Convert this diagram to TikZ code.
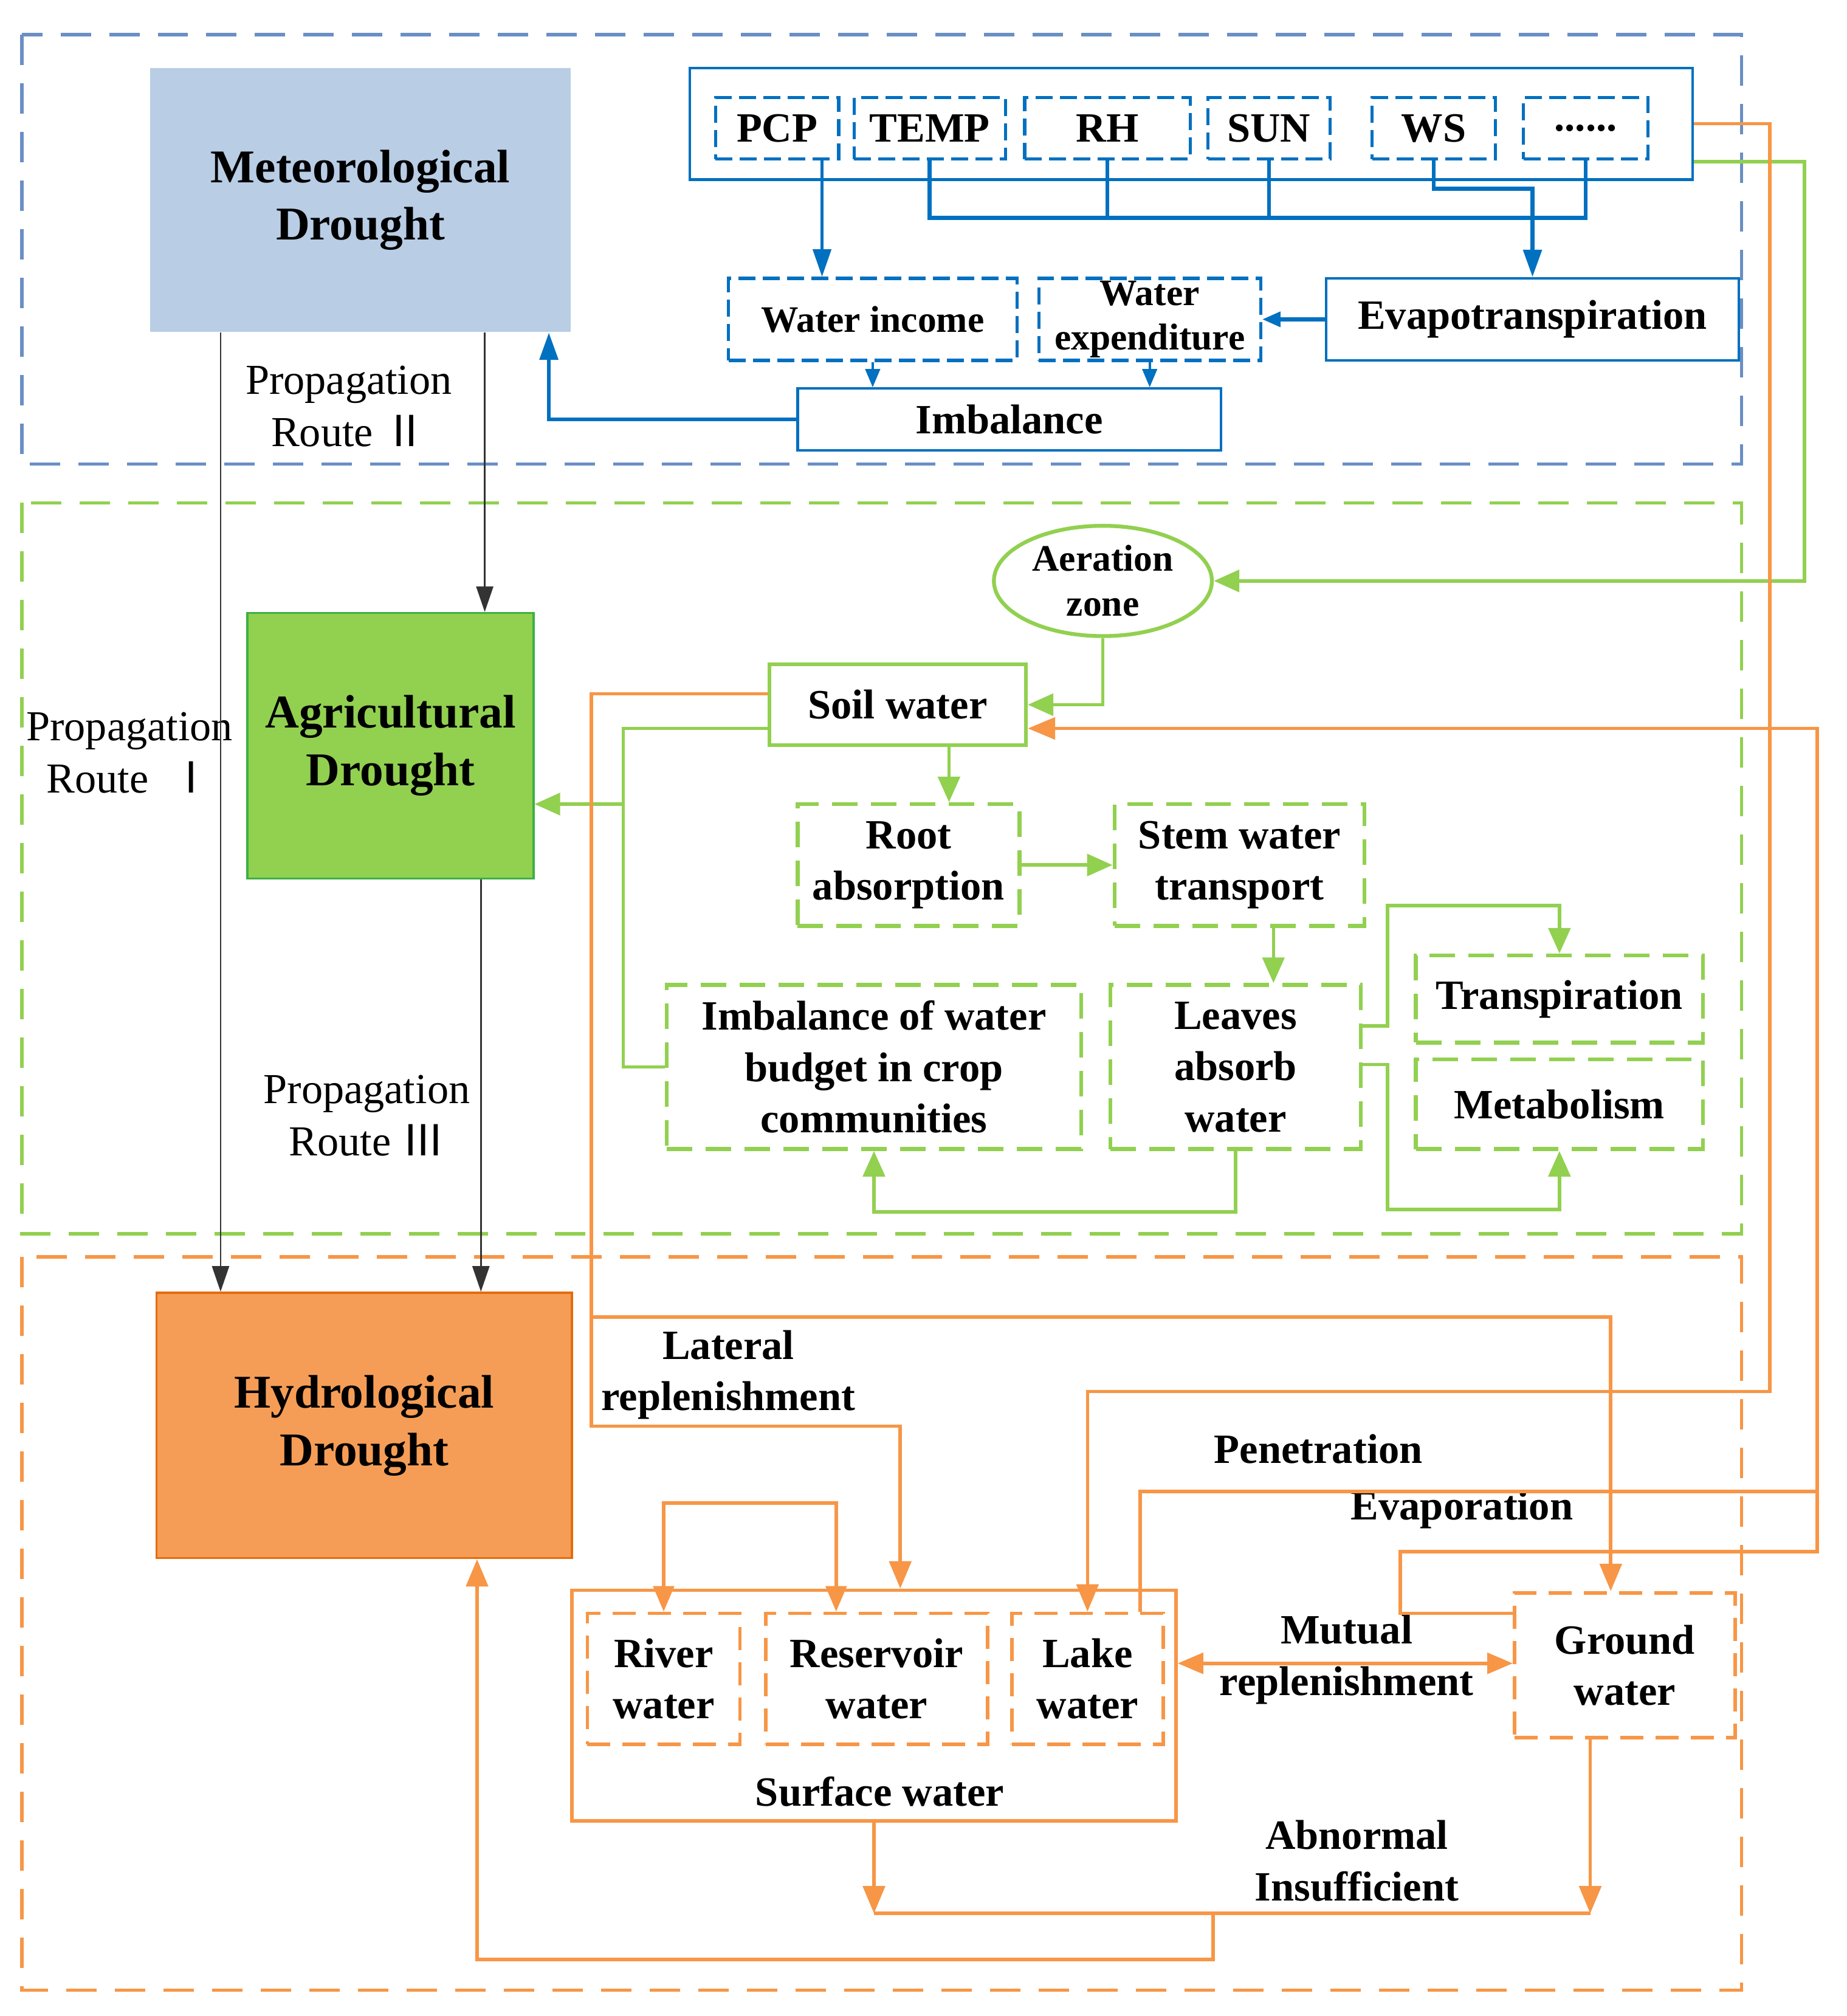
\documentclass[tikz,border=0pt]{standalone}
\usepackage{fontspec}
\setmainfont{Liberation Serif}
\newfontfamily\cjk{Noto Sans CJK SC}
\usetikzlibrary{arrows.meta,shapes.geometric}

\definecolor{frameblue}{HTML}{6A8FC4}
\definecolor{lineblue}{HTML}{0070C0}
\definecolor{metfill}{HTML}{B9CDE5}
\definecolor{leafgreen}{HTML}{92D050}
\definecolor{agrborder}{HTML}{3CB043}
\definecolor{waterorange}{HTML}{F79646}
\definecolor{hydfill}{HTML}{F59D56}
\definecolor{hydborder}{HTML}{E46C0A}

\tikzset{
  wh/.style 2 args={minimum width=#1*0.021097cm, minimum height=#2*0.021097cm, inner sep=0pt},
  bigtext/.style={font=\fontsize{22}{27}\selectfont\bfseries, align=center},
  midtext/.style={font=\fontsize{19.5}{24}\selectfont\bfseries, align=center},
  smalltext/.style={font=\fontsize{17.5}{21}\selectfont\bfseries, align=center},
  routetext/.style={font=\fontsize{20}{24.5}\selectfont, align=center},
  region/.style={line width=1.5pt, dash pattern=on 0.5cm off 0.3cm},
  bluebox/.style={draw=lineblue, line width=1.2pt, midtext},
  varbox/.style={draw=lineblue, line width=1.5pt, dash pattern=on 0.28cm off 0.12cm, midtext},
  greenbox/.style={draw=leafgreen, line width=1.8pt, midtext},
  greendash/.style={greenbox, dash pattern=on 0.42cm off 0.22cm},
  orangebox/.style={draw=waterorange, line width=1.6pt, midtext},
  orangedash/.style={orangebox, dash pattern=on 0.38cm off 0.2cm},
  bline/.style={draw=lineblue, line width=1.2pt},
  bthick/.style={draw=lineblue, line width=1.9pt},
  btip/.style={-{Triangle[length=0.45cm,width=0.3cm]}},
  bsmalltip/.style={-{Triangle[length=0.3cm,width=0.24cm]}},
  karrow/.style={draw=black!80, line width=0.8pt, -{Triangle[length=0.42cm,width=0.28cm]}},
  gline/.style={draw=leafgreen, line width=1.6pt},
  garrow/.style={gline, -{Triangle[length=0.42cm,width=0.36cm]}},
  oline/.style={draw=waterorange, line width=1.6pt},
  oarrow/.style={oline, -{Triangle[length=0.45cm,width=0.36cm]}},
  oboth/.style={oline, {Triangle[length=0.42cm,width=0.34cm]}-{Triangle[length=0.42cm,width=0.34cm]}}
}

\begin{document}
\begin{tikzpicture}[x=0.021097cm, y=-0.021097cm]
  % Fix the page to the size of the figure
  \useasboundingbox (0,0) rectangle (1440,1572);

  % Dashed regions of the three droughts
  \draw[region, frameblue] (17,27) rectangle (1358,362);
  \draw[region, leafgreen] (17,392) rectangle (1358,962);
  \draw[region, waterorange] (17,980) rectangle (1358,1552);

  % Drought boxes
  \node[bigtext, wh={328}{206}, fill=metfill] (met) at (281,156) {Meteorological\\Drought};
  \node[bigtext, wh={223}{207}, fill=leafgreen, draw=agrborder, line width=1pt] (agr) at (304.5,581.5) {Agricultural\\Drought};
  \node[bigtext, wh={324}{207}, fill=hydfill, draw=hydborder, line width=1pt] (hyd) at (284,1111.5) {Hydrological\\Drought};

  % Meteorological factors
  \node[bluebox, wh={782}{87}] (param) at (929,96.5) {};
  \node[varbox, wh={96}{48}] (pcp) at (606,100) {PCP};
  \node[varbox, wh={118}{48}] (temp) at (725,100) {TEMP};
  \node[varbox, wh={129}{48}] (rh) at (863.5,100) {RH};
  \node[varbox, wh={95}{48}] (sun) at (989.5,100) {SUN};
  \node[varbox, wh={96}{48}] (ws) at (1118,100) {WS};
  \node[varbox, wh={97}{48}] (dots) at (1236.5,100) {......};

  % Water balance
  \node[varbox, smalltext, wh={225}{64}] (income) at (680.5,249) {Water income};
  \node[varbox, smalltext, wh={173}{64}] (expend) at (896.5,249) {Water\\expenditure};
  \node[bluebox, wh={322}{64}] (evap) at (1195,249) {Evapotranspiration};
  \node[bluebox, wh={330}{48}] (imbal) at (787,327) {Imbalance};

  % Crop water path
  \node[greenbox, ellipse, smalltext, wh={170}{86}] (aer) at (860,453) {Aeration\\zone};
  \node[greenbox, wh={200}{63}] (soil) at (700,549.5) {Soil water};
  \node[greendash, wh={173}{95}] (root) at (708.5,674.5) {Root\\absorption};
  \node[greendash, wh={195}{95}] (stem) at (966.5,674.5) {Stem water\\transport};
  \node[greendash, wh={323}{128}] (imb2) at (681.5,832) {Imbalance of water\\budget in crop\\communities};
  \node[greendash, wh={195}{128}] (leaves) at (963.5,832) {Leaves\\absorb\\water};
  \node[greendash, wh={224}{68}] (trans) at (1216,779) {Transpiration};
  \node[greendash, wh={224}{70}] (meta) at (1216,861) {Metabolism};

  % Surface and ground water
  \node[orangebox, wh={471}{180}] (surf) at (681.5,1330) {};
  \node[midtext] (surflabel) at (686,1397) {Surface water};
  \node[orangedash, wh={119}{102}] (river) at (517.5,1309) {River\\water};
  \node[orangedash, wh={173}{102}] (res) at (683.5,1309) {Reservoir\\water};
  \node[orangedash, wh={118}{102}] (lake) at (848,1309) {Lake\\water};
  \node[orangedash, wh={172}{113}] (ground) at (1267,1298.5) {Ground\\water};

  % Labels
  \node[routetext] (route2) at (272,317) {Propagation\\Route {\cjk Ⅱ}};
  \node[routetext] (route1) at (101,587) {Propagation\\Route \ {\cjk Ⅰ}};
  \node[routetext] (route3) at (286,870) {Propagation\\Route {\cjk Ⅲ}};
  \node[midtext] (lateral) at (568,1072) {Lateral\\replenishment};
  \node[midtext] (penet) at (1028,1130) {Penetration};
  \node[midtext] (evapo) at (1140,1177) {Evaporation};
  \node[midtext] (mutual) at (1050,1294) {Mutual\\replenishment};
  \node[midtext] (abnormal) at (1058,1451) {Abnormal\\Insufficient};

  % Blue connectors
  \draw[bline, btip] (pcp.south -| 641,0) -- (income.north -| 641,0);
  \draw[bthick] (temp.south) |- (dots.south |- 0,170) -- (dots.south);
  \draw[bthick] (rh.south) -- (rh.south |- 0,170);
  \draw[bthick] (sun.south) -- (sun.south |- 0,170);
  \draw[bthick, btip] (ws.south) |- (evap.north |- 0,147) -- (evap.north);
  \draw[bthick, bsmalltip] (evap.west) -- (expend.east);
  \draw[bline, bsmalltip] (income.south) -- (income.south |- imbal.north);
  \draw[bline, bsmalltip] (expend.south) -- (expend.south |- imbal.north);
  \draw[bthick, btip] (imbal.west) -| (met.south -| 428,0);

  % Propagation routes
  \draw[karrow] (met.south -| 172,0) -- (hyd.north -| 172,0);
  \draw[karrow] (met.south -| 378,0) -- (agr.north -| 378,0);
  \draw[karrow] (agr.south -| 375,0) -- (hyd.north -| 375,0);

  % Green connectors
  \coordinate (gjoin) at (486,627);
  \draw[garrow] (param.east |- 0,126) -| (1407,0 |- aer.east) -- (aer.east);
  \draw[garrow] (aer.south) |- (soil.east);
  \draw[garrow] (soil.south -| 740,0) -- (root.north -| 740,0);
  \draw[garrow] (root.east) -- (stem.west);
  \draw[garrow] (stem.south -| 993,0) -- (leaves.north -| 993,0);
  \draw[garrow] (leaves.south) |- (imb2.south |- 0,945) -- (imb2.south);
  \draw[garrow] (leaves.east |- 0,800) -| (1082,706) -| (trans.north);
  \draw[garrow] (leaves.east |- 0,830) -| (1082,943) -| (meta.south);
  \draw[gline] (soil.west |- 0,568) -| (gjoin);
  \draw[gline] (imb2.west) -| (gjoin);
  \draw[garrow] (gjoin) -- (agr.east |- gjoin);

  % Orange connectors
  \coordinate (osplit) at (461,1027);
  \coordinate (abn) at (946,1492);
  \draw[oarrow] (param.east) -| (1380,1085) -| (lake.north);
  \draw[oarrow] (soil.west |- 0,541) -| (461,1112) -| (surf.north -| 702,0);
  \draw[oarrow] (osplit) -| (ground.north -| 1256,0);
  \draw[oarrow] (lake.north -| 889,0) |- (1417,1163) |- (soil.east |- 0,568);
  \draw[oline] (ground.west |- 0,1258) -| (1092,1210) -| (1417,1163);
  \draw[oboth] (surf.east |- 0,1297) -- (ground.west |- 0,1297);
  \draw[oboth] (river.north) |- (652,1172) -- (res.north -| 652,0);
  \draw[oarrow] (surf.south) -- (surf.south |- abn);
  \draw[oarrow] (ground.south -| 1240,0) -- (abn -| 1240,0);
  \draw[oline] (surf.south |- abn) -- (abn -| 1240,0);
  \draw[oarrow] (abn) |- (372,1528) -- (hyd.south -| 372,0);
\end{tikzpicture}
\end{document}
